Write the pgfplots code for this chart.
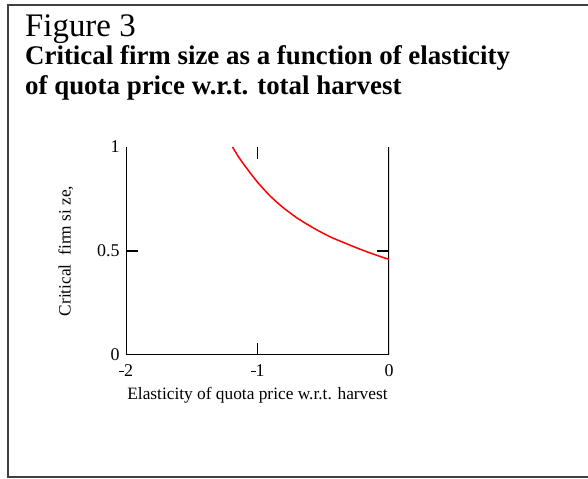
\documentclass[border=0pt]{standalone}
\usepackage{pgfplots}
\pgfplotsset{compat=1.18}
\usepackage{fontspec}
\setmainfont{Liberation Serif}
\begin{document}
\begin{tikzpicture}[x=1bp,y=1bp]
\useasboundingbox (0,0) rectangle (588,479);
\begin{scope}
\clip (0,0) rectangle (588,479);
\draw[line width=1.6bp, black!75] (8,2) rectangle (640,474);
\end{scope}
\node[anchor=base west, inner sep=0, font=\fontsize{33}{33}\selectfont] at (25,442) {Figure 3};
\node[anchor=base west, inner sep=0, font=\fontsize{27}{27}\selectfont\bfseries] at (25,414) {Critical firm size as a function of elasticity};
\node[anchor=base west, inner sep=0, font=\fontsize{27}{27}\selectfont\bfseries] at (25,384) {of quota price w.r.t. total harvest};
\begin{axis}[
  at={(126bp,124bp)}, anchor=south west,
  scale only axis, width=263bp, height=208bp,
  xmin=-2, xmax=0, ymin=0, ymax=1,
  axis line style={draw=none},
  tick align=inside, tickpos=both,
  xtick={-2,-1,0}, xticklabels={\raisebox{0.55ex}{\rule{5bp}{1.2bp}}2,\raisebox{0.55ex}{\rule{5bp}{1.2bp}}1,0},
  ytick={0,0.5,1}, yticklabels={0,0.5,1},
  major tick length=0pt,
  extra x ticks={-1}, extra x tick labels={},
  extra y ticks={0.5}, extra y tick labels={},
  extra tick style={major tick length=12bp, tick style={black, line width=1.3bp}},
  ticklabel style={font=\fontsize{18}{18}\selectfont},
  xticklabel style={yshift=-6bp},
  yticklabel style={xshift=-3bp},
  xlabel={Elasticity of quota price w.r.t. harvest},
  ylabel={Critical\ \ firm si ze,},
  label style={font=\fontsize{17.4}{17.4}\selectfont},
  xlabel style={yshift=-4bp},
  ylabel style={yshift=17bp},
  clip=true,
]
\draw[black, line width=1.3bp] (rel axis cs:0,1) -- (rel axis cs:0,0) -- (rel axis cs:1,0) -- (rel axis cs:1,1);
\addplot[red, line width=1.5bp, smooth] coordinates {
(-1.19,1.0) (-1.15,0.958) (-1.1,0.913) (-1.05,0.871) (-1.0,0.831) (-0.95,0.795)
(-0.9,0.762) (-0.85,0.733) (-0.8,0.706) (-0.75,0.682) (-0.7,0.659) (-0.65,0.639)
(-0.6,0.620) (-0.55,0.602) (-0.5,0.585) (-0.45,0.569) (-0.4,0.555) (-0.35,0.542)
(-0.3,0.529) (-0.25,0.516) (-0.2,0.504) (-0.15,0.492) (-0.1,0.481) (-0.05,0.470) (0,0.46)
};
\end{axis}
\end{tikzpicture}
\end{document}
